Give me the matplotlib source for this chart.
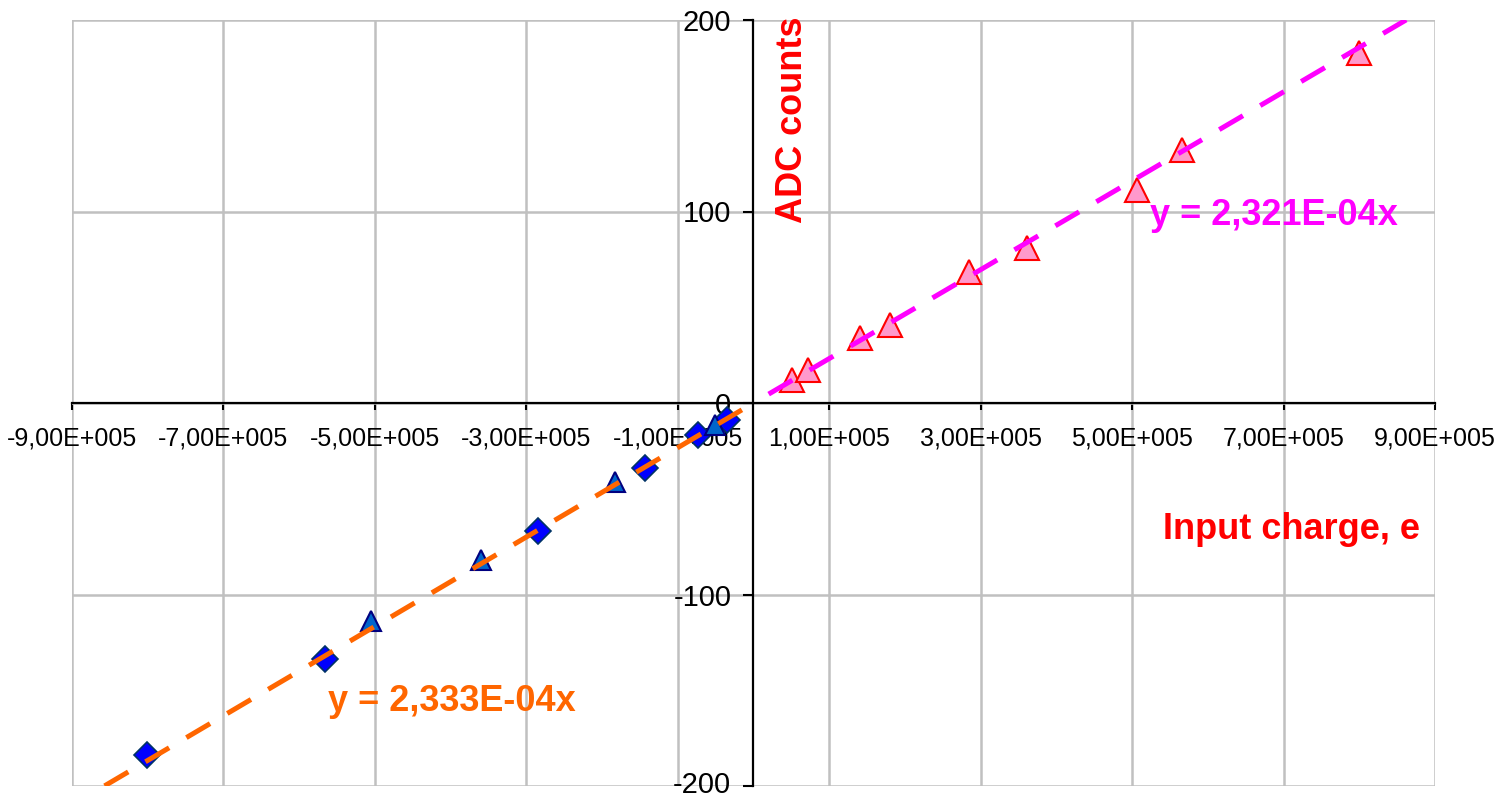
import matplotlib
matplotlib.use("Agg")
import matplotlib.pyplot as plt
import matplotlib.transforms as mtransforms

# negative side: two series of blue markers
neg_diamond_x = [-8.01e5, -5.66e5, -2.85e5, -1.43e5, -0.73e5, -0.35e5]
neg_diamond_y = [-184, -133.5, -67, -34, -16.7, -8.9]
neg_tri_x = [-5.05e5, -3.60e5, -1.83e5, -0.51e5]
neg_tri_y = [-114, -82, -41, -11.5]

# positive side: pink triangles
pos_x = [0.51e5, 0.72e5, 1.41e5, 1.80e5, 2.85e5, 3.61e5, 5.06e5, 5.66e5, 8.0e5]
pos_y = [12, 17.2, 34, 40.7, 68.4, 81, 111, 132, 182.8]

# linear fits through origin
neg_slope = 2.333e-4
pos_slope = 2.321e-4
neg_fit_x = [-8.57e5, 0.0]
pos_fit_x = [0.2e5, 8.62e5]

xticks = [-9e5, -7e5, -5e5, -3e5, -1e5, 1e5, 3e5, 5e5, 7e5, 9e5]
xticklabels = ["-9,00E+005", "-7,00E+005", "-5,00E+005", "-3,00E+005", "-1,00E+005",
               "1,00E+005", "3,00E+005", "5,00E+005", "7,00E+005", "9,00E+005"]
yticks = [-200, -100, 0, 100, 200]
yticklabels = ["-200", "-100", "0", "100", "200"]

plt.rcParams["font.family"] = ["Liberation Sans", "DejaVu Sans"]

fig = plt.figure(figsize=(15.02, 7.97), dpi=100)
ax = fig.add_axes([72 / 1502, 11 / 797, 1363 / 1502, 766 / 797])

ax.plot(neg_diamond_x, neg_diamond_y, "D", ms=13, mfc="#0000FF", mec="#003366", mew=1.2,
        linestyle="none", zorder=3)
ax.plot(neg_tri_x, neg_tri_y, "^", ms=15, mfc="#0066CC", mec="#000080", mew=1.5,
        linestyle="none", zorder=3)
ax.plot(pos_x, pos_y, "^", ms=17, mfc="#FF99CC", mec="#FF0000", mew=1.5,
        linestyle="none", zorder=3)

ax.plot(neg_fit_x, [neg_slope * v for v in neg_fit_x], color="#FF6600", lw=3.6,
        dashes=(5.5, 4), zorder=4)
ax.plot(pos_fit_x, [pos_slope * v for v in pos_fit_x], color="#FF00FF", lw=3.6,
        dashes=(5.5, 4), zorder=4)

ax.set_xlim(-9e5, 9e5)
ax.set_ylim(-200, 200)
ax.set_xticks(xticks)
ax.set_xticklabels(xticklabels)
ax.set_yticks(yticks)
ax.set_yticklabels(yticklabels)

ax.grid(True, color="#C0C0C0", lw=1.8, zorder=0)
ax.set_axisbelow(True)
for gl in ax.get_xgridlines() + ax.get_ygridlines():
    gl.set_clip_on(False)

ax.spines["left"].set_position(("data", 0))
ax.spines["bottom"].set_position(("data", 0))
for s in ("left", "bottom"):
    ax.spines[s].set_linewidth(1.6)
    ax.spines[s].set_zorder(2)
ax.spines[["top", "right"]].set_visible(False)

ax.tick_params(axis="x", direction="out", length=5, width=1.5, labelsize=18, pad=12)
ax.tick_params(axis="y", direction="out", length=7, width=1.5, labelsize=21, pad=9)

# nudge the bottom "-200" label up a touch so it stays inside the figure
lbl = ax.get_yticklabels()[0]
lbl.set_transform(lbl.get_transform() +
                  mtransforms.ScaledTranslation(0, 3 / 72, fig.dpi_scale_trans))

ax.text(0.52e5, 148, "ADC counts", rotation=90, color="#FF0000", fontsize=26,
        fontweight="bold", ha="center", va="center")
ax.text(7.1e5, -66, "Input charge, e", color="#FF0000", fontsize=26,
        fontweight="bold", ha="center", va="center")
ax.text(6.87e5, 98, "y = 2,321E-04x", color="#FF00FF", fontsize=26,
        fontweight="bold", ha="center", va="center")
ax.text(-3.98e5, -156, "y = 2,333E-04x", color="#FF6600", fontsize=26,
        fontweight="bold", ha="center", va="center")

fig.savefig("out.png", dpi=100)
